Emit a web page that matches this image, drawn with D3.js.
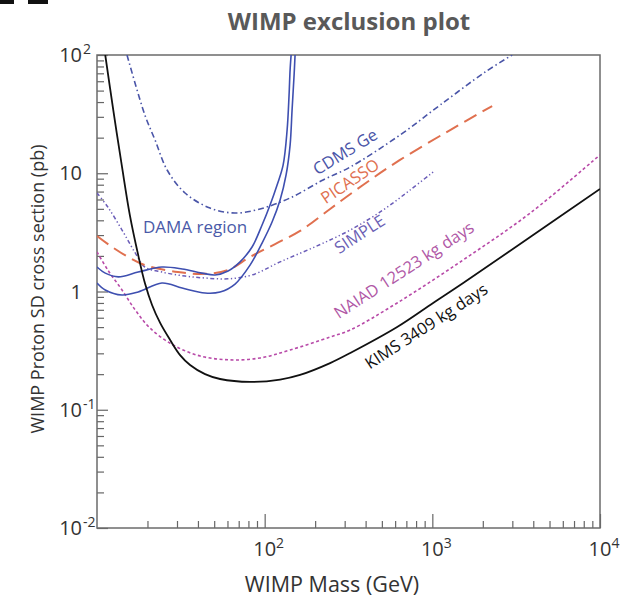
<!DOCTYPE html>
<html>
<head>
<meta charset="utf-8">
<script src="https://cdn.jsdelivr.net/npm/d3@7"></script>
<style>
  body { margin: 0; background: #fff; }
  svg { display: block; }
</style>
</head>
<body>
<svg></svg>
<script>
// values: mass in GeV, cross section in pb
let kimsMass = [11.2, 12.5, 14.1, 15.7, 17.6, 19.3, 21.3, 23.8, 27.3, 31.3, 35.9, 44.1, 54.2, 81.8, 123.6, 162.6, 245.6, 324, 617, 1011, 1528, 3837, 10000]
let kimsSigma = [100, 34.3, 11.3, 4.43, 2.04, 1.18, 0.769, 0.542, 0.389, 0.29, 0.239, 0.2, 0.182, 0.172, 0.18, 0.197, 0.248, 0.302, 0.501, 0.8, 1.18, 2.89, 7.36]

let naiadMass = [10, 11.6, 14.1, 16.9, 20.7, 28.4, 41.2, 62.2, 93.9, 141.8, 245.6, 324, 617, 1528, 3837, 10000]
let naiadSigma = [2.16, 1.52, 1.03, 0.698, 0.491, 0.353, 0.285, 0.264, 0.274, 0.32, 0.412, 0.473, 0.8, 1.85, 4.61, 14.3]

let cdmsMass = [15.1, 19.3, 22.2, 26.2, 33.5, 47.2, 66.5, 93.9, 141.8, 223, 324, 643, 1114, 2066, 2992]
let cdmsSigma = [100, 31.1, 19.1, 10.65, 6.81, 5.08, 4.61, 4.99, 6.18, 8.77, 11.3, 21.1, 37.8, 71.8, 100]

let picassoMass = [10, 12.3, 15.3, 19.3, 30.4, 44.1, 60.5, 81.8, 115.4, 162.6, 245.6, 386, 638, 1277, 2274]
let picassoSigma = [2.95, 2.38, 1.96, 1.67, 1.46, 1.41, 1.52, 1.96, 2.52, 3.25, 4.99, 7.96, 12.9, 23.2, 37]

let simpleMass = [10, 11.6, 14.1, 16.9, 19.3, 24.4, 33.5, 44.1, 60.5, 84.1, 123.6, 205.4, 324, 508.7, 737, 1011]
let simpleSigma = [6.81, 5.18, 3.31, 2.12, 1.61, 1.46, 1.35, 1.3, 1.28, 1.38, 1.78, 2.43, 3.31, 4.89, 7.22, 10.25]

let damaInnerMass = [10, 11.2, 13.4, 17.6, 24.4, 32.2, 42.3, 50.6, 60.5, 71.3, 84.1, 96.5, 107.7, 118.6, 128.8, 136.1, 139.8, 141.8, 143.8]
let damaInnerSigma = [1.61, 1.43, 1.33, 1.46, 1.61, 1.55, 1.43, 1.38, 1.49, 1.78, 2.38, 3.65, 5.39, 7.96, 11.7, 23.2, 45.9, 74.6, 100]

let damaOuterMass = [10, 11.2, 14.1, 17.6, 24.4, 32.2, 44.1, 54.2, 66.6, 81.8, 96.5, 110.7, 123.6, 134.2, 141.8, 145.7, 149.8, 151.8]
let damaOuterSigma = [1.18, 1.03, 0.934, 0.99, 1.18, 1.07, 0.971, 0.99, 1.157, 1.67, 2.57, 3.87, 5.94, 9.67, 17.3, 34.3, 67.8, 100]

let xMajorTicks = [100, 1000, 10000]
let xTickExponents = ["2", "3", "4"]
let yMajorTicks = [100, 10, 1, 0.1, 0.01]
let yTickBases = ["10", "10", "1", "10", "10"]
let yTickExponents = ["2", "", "", "-1", "-2"]

let labelNames = ["CDMS Ge", "PICASSO", "SIMPLE", "NAIAD 12523 kg days", "KIMS 3409 kg days"]
let labelMass = [315, 337, 385, 707, 960]
let labelSigma = [13.8, 7.8, 2.78, 1.38, 0.464]
let labelAngles = [-31.5, -34, -33, -33, -33]
let labelColors = ["#4a55a8", "#e0704f", "#6c5fb5", "#b058a6", "#111"]

let width = 624
let height = 604
let plotLeft = 97, plotRight = 600, plotTop = 55, plotBottom = 528
let font = "'Open Sans', 'DejaVu Sans', sans-serif"

let svg = d3.select("svg")
            .attr("width", width)
            .attr("height", height)

let xScale = d3.scaleLog()
               .domain([10, 10000])
               .range([plotLeft, plotRight])
let yScale = d3.scaleLog()
               .domain([0.01, 100])
               .range([plotBottom, plotTop])

let minorTicks = (lo, hi) => {
  let out = []
  for (let d = lo; d < hi * 0.99; d *= 10) {
    for (let k = 2; k <= 9; k++) out.push(d * k)
  }
  return out
}

// little black marks in the top-left corner of the screenshot
svg.append("rect").attr("x", 0).attr("y", 0).attr("width", 14).attr("height", 4).attr("fill", "#111")
svg.append("rect").attr("x", 28).attr("y", 0).attr("width", 20).attr("height", 4).attr("fill", "#111")

svg.append("text")
   .text("WIMP exclusion plot")
   .attr("x", 349)
   .attr("y", 30)
   .attr("text-anchor", "middle")
   .style("font-family", font)
   .style("font-weight", "bold")
   .style("font-size", "24px")
   .style("fill", "#595959")

// axes
let drawAxes = () => {
  let xMinor = d3.axisBottom(xScale).tickValues(minorTicks(10, 10000)).tickSize(-7).tickFormat("")
  let xMajor = d3.axisBottom(xScale).tickValues(xMajorTicks).tickSize(-14).tickFormat("")
  let yMinor = d3.axisLeft(yScale).tickValues(minorTicks(0.01, 100)).tickSize(-7).tickFormat("")
  let yMajor = d3.axisLeft(yScale).tickValues(yMajorTicks).tickSize(-11).tickFormat("")

  let gx = svg.append("g").attr("transform", "translate(0," + plotBottom + ")")
  gx.call(xMinor)
  gx.append("g").call(xMajor)
  let gy = svg.append("g").attr("transform", "translate(" + plotLeft + ",0)")
  gy.call(yMinor)
  gy.append("g").call(yMajor)

  svg.selectAll(".domain").remove()
  svg.selectAll(".tick line").attr("stroke", "#666").attr("stroke-width", 1.2)

  svg.append("rect")
     .attr("x", plotLeft)
     .attr("y", plotTop)
     .attr("width", plotRight - plotLeft)
     .attr("height", plotBottom - plotTop)
     .attr("fill", "none")
     .attr("stroke", "#6b6b6b")
     .attr("stroke-width", 1.5)

  xMajorTicks.forEach((v, i) => {
    let t = svg.append("text")
               .attr("x", xScale(v) + 4)
               .attr("y", 556)
               .attr("text-anchor", "middle")
               .style("font-family", font)
               .style("font-size", "20px")
               .style("fill", "#333")
    t.append("tspan").text("10")
    t.append("tspan").text(xTickExponents[i]).attr("dy", -8).style("font-size", "14px")
  })

  yMajorTicks.forEach((v, i) => {
    svg.append("text")
       .text(yTickBases[i])
       .attr("x", 82)
       .attr("y", yScale(v) + 7)
       .attr("text-anchor", "end")
       .style("font-family", font)
       .style("font-size", "20px")
       .style("fill", "#333")
    if (yTickExponents[i] != "") {
      svg.append("text")
         .text(yTickExponents[i])
         .attr("x", 83)
         .attr("y", yScale(v) - 1)
         .style("font-family", font)
         .style("font-size", "14px")
         .style("fill", "#333")
    }
  })

  svg.append("text")
     .text("WIMP Mass (GeV)")
     .attr("x", 332)
     .attr("y", 592)
     .attr("text-anchor", "middle")
     .style("font-family", font)
     .style("font-size", "21.5px")
     .style("fill", "#333")

  svg.append("text")
     .text("WIMP Proton SD cross section (pb)")
     .attr("transform", "translate(44, 289) rotate(-90)")
     .attr("text-anchor", "middle")
     .style("font-family", font)
     .style("font-size", "18px")
     .style("fill", "#333")
}

let drawCurves = () => {
  svg.append("clipPath")
     .attr("id", "plot-clip")
     .append("rect")
     .attr("x", plotLeft)
     .attr("y", plotTop)
     .attr("width", plotRight - plotLeft)
     .attr("height", plotBottom - plotTop)

  let line = d3.line()
               .x(d => xScale(d[0]))
               .y(d => yScale(d[1]))
               .curve(d3.curveCatmullRom.alpha(0.5))

  let curves = [
    {mass: cdmsMass, sigma: cdmsSigma, color: "#4a55a8", dash: "6,3,1.5,3", w: 1.6},
    {mass: simpleMass, sigma: simpleSigma, color: "#6a5cb8", dash: "4,2.5,1.3,2.5,1.3,2.5", w: 1.5},
    {mass: picassoMass, sigma: picassoSigma, color: "#e0704f", dash: "14,7", w: 2},
    {mass: naiadMass, sigma: naiadSigma, color: "#b84aa8", dash: "3,2.5", w: 1.6},
    {mass: damaInnerMass, sigma: damaInnerSigma, color: "#3e4fb0", dash: null, w: 1.6},
    {mass: damaOuterMass, sigma: damaOuterSigma, color: "#3e4fb0", dash: null, w: 1.6},
    {mass: kimsMass, sigma: kimsSigma, color: "#111", dash: null, w: 1.8}
  ]

  let g = svg.append("g").attr("clip-path", "url(#plot-clip)")
  curves.forEach(c => {
    g.append("path")
     .datum(c.mass.map((m, i) => [m, c.sigma[i]]))
     .attr("d", line)
     .attr("fill", "none")
     .attr("stroke", c.color)
     .attr("stroke-width", c.w)
     .attr("stroke-dasharray", c.dash)
  })
}

let drawLabels = () => {
  svg.append("text")
     .text("DAMA region")
     .attr("x", xScale(18.8))
     .attr("y", yScale(3.13))
     .style("font-family", font)
     .style("font-size", "17px")
     .style("fill", "#4a5aa8")

  labelNames.forEach((name, i) => {
    svg.append("text")
       .text(name)
       .attr("transform", "translate(" + xScale(labelMass[i]) + "," + yScale(labelSigma[i]) + ") rotate(" + labelAngles[i] + ")")
       .attr("text-anchor", "middle")
       .style("font-family", font)
       .style("font-size", "16.5px")
       .style("fill", labelColors[i])
  })
}

drawAxes()
drawCurves()
drawLabels()
</script>
</body>
</html>
